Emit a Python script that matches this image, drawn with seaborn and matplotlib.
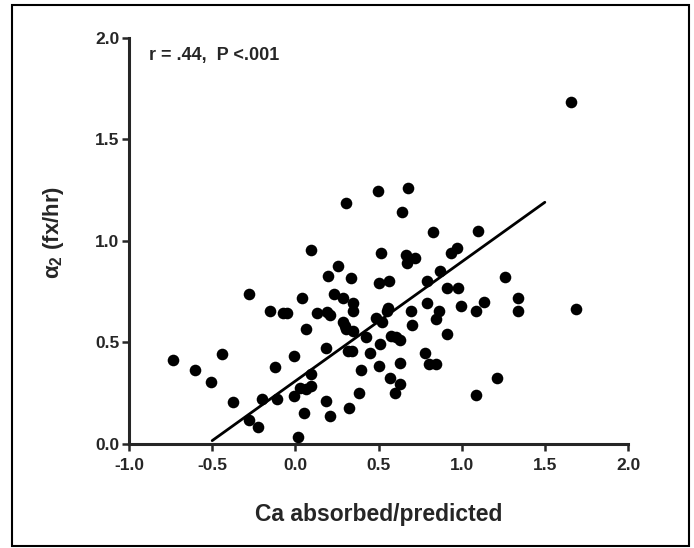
# Scatter of alpha2 vs Ca absorbed/predicted with fitted line

import numpy as np
import pandas as pd
import matplotlib
matplotlib.use('Agg')
import matplotlib.pyplot as plt
import seaborn as sb

# Data
ca_ratio = [1.659, 1.686, -0.737, -0.601, -0.508, -0.438, -0.372, -0.279, -0.223, -0.281,
            -0.199, -0.154, -0.122, -0.111, -0.075, -0.050, -0.010, -0.010, 0.017, 0.038,
            0.051, 0.030, 0.062, 0.065, 0.094, 0.094, 0.094, 0.129, 0.187, 0.187,
            0.192, 0.211, 0.198, 0.211, 0.232, 0.256, 0.288, 0.288, 0.302, 0.307,
            0.323, 0.315, 0.342, 0.336, 0.344, 0.344, 0.344, 0.381, 0.395, 0.424,
            0.451, 0.483, 0.496, 0.504, 0.504, 0.509, 0.515, 0.520, 0.562, 0.557,
            0.568, 0.576, 0.605, 0.597, 0.632, 0.632, 0.632, 0.642, 0.664, 0.674,
            0.680, 0.696, 0.701, 0.717, 0.781, 0.789, 0.791, 0.802, 0.829, 0.845,
            0.845, 0.861, 0.869, 0.914, 0.914, 0.935, 0.972, 0.975, 0.996, 1.087,
            1.089, 1.100, 1.135, 1.215, 1.260, 1.340, 1.340, 0.550, 0.300]
alpha2 = [1.685, 0.663, 0.416, 0.363, 0.305, 0.444, 0.209, 0.120, 0.082, 0.737,
          0.221, 0.655, 0.379, 0.221, 0.643, 0.643, 0.435, 0.238, 0.034, 0.718,
          0.154, 0.278, 0.566, 0.271, 0.346, 0.288, 0.956, 0.643, 0.211, 0.475,
          0.651, 0.634, 0.829, 0.137, 0.740, 0.879, 0.720, 0.603, 1.186, 0.566,
          0.175, 0.458, 0.458, 0.819, 0.692, 0.655, 0.557, 0.249, 0.363, 0.526,
          0.446, 0.620, 1.244, 0.795, 0.382, 0.492, 0.939, 0.600, 0.805, 0.668,
          0.326, 0.531, 0.526, 0.249, 0.514, 0.401, 0.296, 1.145, 0.931, 0.891,
          1.261, 0.655, 0.586, 0.915, 0.446, 0.805, 0.692, 0.394, 1.042, 0.394,
          0.617, 0.655, 0.852, 0.540, 0.766, 0.939, 0.963, 0.766, 0.682, 0.655,
          0.243, 1.051, 0.699, 0.326, 0.823, 0.720, 0.655, 0.655, 0.580]

# Regression line as printed
fit_slope = 0.587
fit_intercept = 0.31
fit_range = [-0.5, 1.5]

df = pd.DataFrame({"ca": ca_ratio, "alpha": alpha2})
line_x = np.array(fit_range)
line_df = pd.DataFrame({"ca": line_x, "alpha": fit_intercept + fit_slope * line_x})

sb.set_style("ticks")
plt.rcParams['font.family'] = ['Liberation Sans', 'DejaVu Sans']
plt.rcParams['font.weight'] = 'bold'
plt.rcParams['mathtext.fontset'] = 'custom'
plt.rcParams['mathtext.rm'] = 'Liberation Sans:bold'
plt.rcParams['mathtext.bf'] = 'Liberation Sans:bold'

fig = plt.figure(figsize=(6.94, 5.48), dpi=100)
ax = fig.add_axes([0.1859, 0.1898, 0.719, 0.741])

sb.scatterplot(data=df, x="ca", y="alpha", ax=ax, s=70, color="black",
               edgecolor="black", linewidth=0, clip_on=False, zorder=3)
sb.lineplot(data=line_df, x="ca", y="alpha", ax=ax, color="black", linewidth=2.0)

ax.set_xlim(-1, 2)
ax.set_ylim(0, 2)
ax.set_xticks(np.arange(-1.0, 2.01, 0.5))
ax.set_yticks(np.arange(0.0, 2.01, 0.5))
ax.set_xticklabels([f"{v:.1f}" for v in np.arange(-1.0, 2.01, 0.5)])
ax.set_yticklabels([f"{v:.1f}" for v in np.arange(0.0, 2.01, 0.5)])
ax.tick_params(direction='out', length=5, width=1.8, labelsize=12.5)
ax.tick_params(axis='x', pad=5)
ax.tick_params(axis='y', pad=2)
for lab in ax.get_xticklabels() + ax.get_yticklabels():
    lab.set_fontweight('bold')

for side in ["top", "right"]:
    ax.spines[side].set_visible(False)
for side in ["left", "bottom"]:
    ax.spines[side].set_linewidth(2.2)

ax.set_xlabel("Ca absorbed/predicted", fontsize=16.5, fontweight='bold')
ax.xaxis.set_label_coords(0.5, -0.145)
ax.set_ylabel(r"$\mathrm{\alpha_2}$ (fx/hr)", fontsize=16, fontweight='bold')
ax.yaxis.set_label_coords(-0.127, 0.52)

ax.text(-0.88, 1.915, "r = .44,  P <.001", fontsize=13, fontweight='bold', va='center')

# Frame around whole figure
fig.patches.append(plt.Rectangle((12 / 694, 2 / 548), 677 / 694, 541 / 548,
                                 transform=fig.transFigure, fill=False,
                                 edgecolor="black", linewidth=1.5))

fig.savefig("out.png", dpi=100)
